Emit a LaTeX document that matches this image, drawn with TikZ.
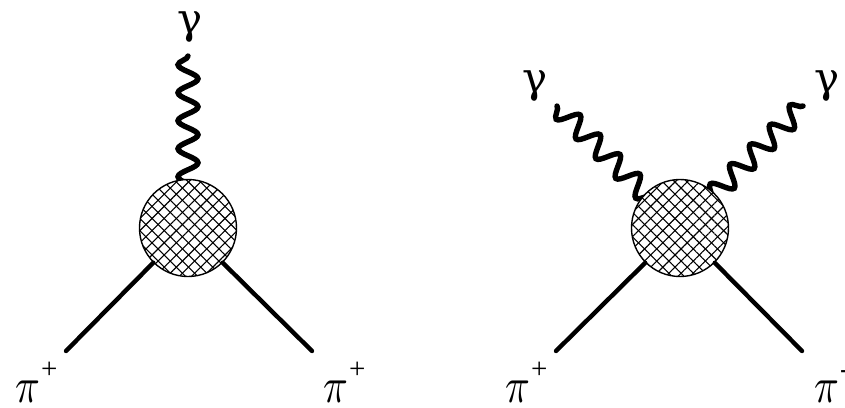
\documentclass[tikz,border=0pt]{standalone}
\usepackage{fontspec}
\setmainfont{Liberation Serif}
\newfontfamily\greekfont{DejaVu Serif}
\usepackage{tikz}
\usetikzlibrary{patterns.meta, decorations.pathmorphing}

\newcommand{\pilabel}[1]{\scalebox{4.1}[5]{$\pi$}\kern1pt\raisebox{24pt}{\fontsize{29}{29}\selectfont #1}}

\begin{document}
\begin{tikzpicture}[
  x=1pt, y=-1pt,
  blob/.style={circle, draw=black, line width=1.4pt, minimum size=97pt, inner sep=0pt,
    preaction={fill=white},
    preaction={pattern={Lines[angle=45, distance=8.6pt, line width=1.1pt]}},
    pattern={Lines[angle=-45, distance=8.6pt, line width=1.1pt]}},
  pion/.style={line width=4.4pt, line cap=round},
  photon/.style={line width=5.4pt, line cap=round,
    decorate, decoration={snake, mirror, segment length=28pt, amplitude=10pt}},
  lbl/.style={inner sep=0pt, anchor=base west},
  gam/.style={lbl, font=\greekfont\fontsize{42}{42}\selectfont}
]
\useasboundingbox (0,0) rectangle (845,407);

%% --- Left diagram ---
\coordinate (centL) at (188,228);
\coordinate (gamL) at (188,56);
\coordinate (piLa) at (66,351);
\coordinate (piLb) at (312,351);
\draw[photon] (gamL) -- (centL);
\node[blob] (blobL) at (centL) {};
\draw[pion] (blobL.225) -- (piLa);
\draw[pion] (blobL.315) -- (piLb);

\node[gam] (txtG) at (177,33) {γ};
\node[lbl] (txtPa) at (15,402) {\pilabel{+}};
\node[lbl] (txtPb) at (323,402) {\pilabel{+}};

%% --- Right diagram ---
\coordinate (centR) at (680,228);
\coordinate (gamRa) at (557,106);
\coordinate (gamRb) at (803,106);
\coordinate (piRa) at (556,351);
\coordinate (piRb) at (802,351);
\draw[photon] (gamRa) -- (centR);
\draw[photon] (gamRb) -- (centR);
\node[blob] (blobR) at (centR) {};
\draw[pion] (blobR.225) -- (piRa);
\draw[pion] (blobR.315) -- (piRb);

\node[gam] (txtGa) at (522,92) {γ};
\node[gam] (txtGb) at (814,92) {γ};
\node[lbl] (txtPc) at (505,402) {\pilabel{+}};
\node[lbl] (txtPd) at (814,402) {\pilabel{-}};

\end{tikzpicture}
\end{document}
